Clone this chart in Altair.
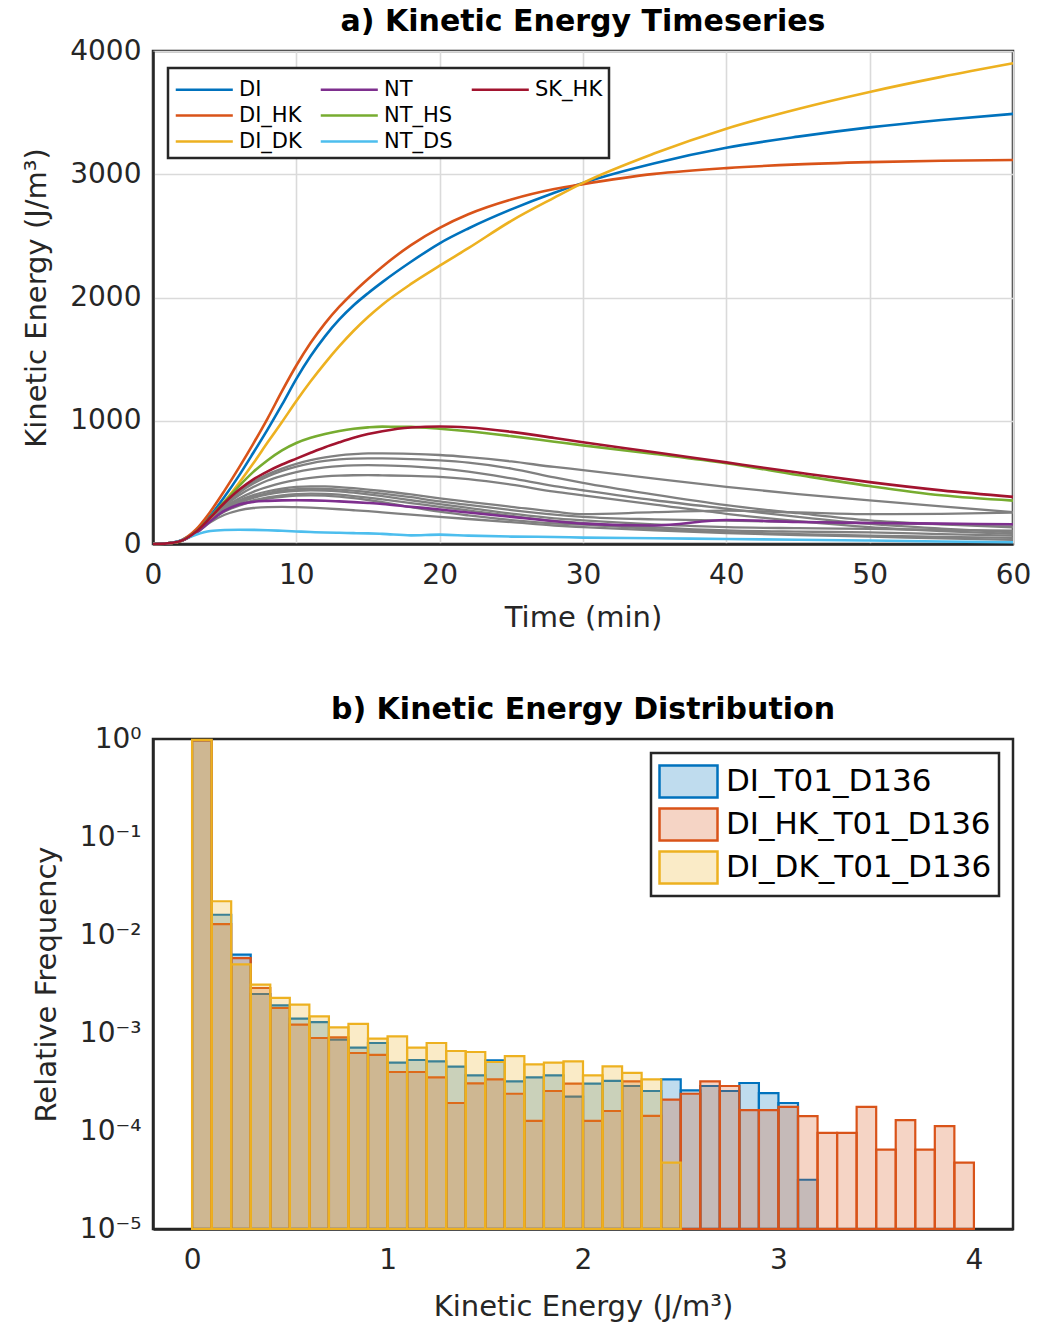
import altair as alt
import pandas as pd

# ---------------- a) Kinetic energy timeseries ----------------
T = [0, 1, 2, 3, 4, 5, 6, 7, 8, 9, 10, 11, 12, 13, 14, 15, 16,
     18, 20, 22, 25, 28, 30, 35, 40, 45, 50, 55, 60]

DI = [0, 5, 30, 105, 230, 385, 555, 740, 930, 1130, 1340, 1525, 1685, 1822, 1937, 2035, 2125,
      2290, 2440, 2560, 2715, 2850, 2930, 3090, 3215, 3305, 3380, 3440, 3490]
DI_HK = [0, 5, 32, 118, 262, 435, 620, 815, 1020, 1240, 1448, 1632, 1790, 1925, 2043, 2150, 2250,
         2425, 2565, 2675, 2795, 2880, 2920, 3003, 3050, 3080, 3098, 3110, 3116]
DI_DK = [0, 5, 27, 98, 210, 345, 495, 655, 825, 990, 1160, 1320, 1468, 1605, 1730, 1842, 1942,
         2110, 2258, 2400, 2622, 2810, 2930, 3170, 3370, 3530, 3668, 3790, 3900]
NT = [0, 5, 26, 90, 185, 270, 320, 342, 350, 354, 355, 354, 351, 346, 340, 333, 325,
      302, 280, 255, 220, 185, 165, 150, 195, 178, 170, 165, 160]
NT_HS = [0, 5, 28, 100, 220, 345, 470, 585, 680, 760, 820, 862, 893, 917, 935, 946, 952,
         950, 935, 915, 875, 830, 800, 730, 655, 560, 470, 395, 352]
NT_DS = [0, 5, 30, 75, 105, 114, 116, 115, 112, 107, 102, 97, 93, 91, 88, 86, 82,
         70, 76, 68, 60, 57, 52, 47, 40, 35, 28, 20, 14]
SK_HK = [0, 5, 28, 100, 215, 335, 440, 525, 590, 645, 693, 740, 785, 825, 862, 892, 915,
         945, 953, 945, 910, 860, 825, 745, 662, 580, 502, 435, 382]

GRAY = [
    [0, 5, 27, 98, 212, 325, 425, 505, 565, 612, 650, 680, 703, 719, 729, 735, 736,
     732, 722, 705, 670, 625, 600, 530, 463, 405, 354, 305, 259],
    [0, 5, 27, 98, 210, 320, 415, 490, 548, 593, 628, 655, 674, 686, 693, 695, 694,
     688, 678, 660, 612, 540, 495, 400, 315, 250, 192, 160, 136],
    [0, 5, 27, 97, 207, 310, 395, 462, 515, 553, 583, 605, 621, 632, 638, 640, 638,
     630, 613, 587, 532, 470, 436, 355, 286, 220, 163, 125, 95],
    [0, 5, 27, 96, 204, 300, 370, 423, 463, 496, 520, 537, 548, 555, 558, 559, 557,
     552, 545, 527, 482, 425, 395, 320, 245, 185, 136, 105, 82],
    [0, 5, 27, 96, 202, 292, 353, 397, 428, 450, 463, 468, 467, 462, 453, 442, 430,
     402, 370, 342, 302, 262, 242, 258, 270, 256, 242, 245, 255],
    [0, 5, 27, 96, 200, 287, 343, 384, 413, 434, 446, 450, 448, 442, 433, 421, 408,
     380, 345, 318, 275, 238, 220, 200, 190, 180, 170, 162, 158],
    [0, 5, 27, 95, 198, 282, 335, 374, 402, 421, 432, 436, 434, 427, 416, 403, 388,
     355, 323, 293, 247, 208, 192, 160, 137, 128, 122, 115, 109],
    [0, 5, 27, 95, 195, 272, 320, 354, 378, 395, 405, 409, 407, 400, 389, 376, 362,
     332, 302, 272, 228, 188, 170, 135, 110, 100, 94, 80, 68],
    [0, 5, 26, 94, 192, 264, 312, 346, 368, 383, 392, 395, 392, 384, 372, 357, 340,
     300, 262, 232, 194, 167, 158, 121, 96, 80, 68, 58, 49],
    [0, 5, 26, 88, 176, 237, 273, 292, 300, 301, 299, 295, 289, 282, 274, 266, 257,
     238, 220, 203, 177, 150, 137, 110, 88, 72, 60, 45, 33],
]

SERIES_NAMES = ["DI", "DI_HK", "DI_DK", "NT", "NT_HS", "NT_DS", "SK_HK"]
SERIES_VALUES = [DI, DI_HK, DI_DK, NT, NT_HS, NT_DS, SK_HK]
SERIES_COLORS = ["#0072BD", "#D95319", "#EDB120", "#7E2F8E", "#77AC30", "#4DBEEE", "#A2142F"]
# a trailing blank entry keeps the legend laid out as 3 rows x 3 columns
LEG_DOMAIN = SERIES_NAMES + [" "]
LEG_RANGE = SERIES_COLORS + ["transparent"]

gray_rows = []
for k, g in enumerate(GRAY):
    for t, v in zip(T, g):
        gray_rows.append({"t": t, "ke": v, "run": f"G{k}"})
gray_df = pd.DataFrame(gray_rows)

col_rows = []
for name, vals in zip(SERIES_NAMES, SERIES_VALUES):
    for t, v in zip(T, vals):
        col_rows.append({"t": t, "ke": v, "series": name})
col_df = pd.DataFrame(col_rows)

FS_TICK = 28
FS_TITLE = 29
DARK = "#262626"

x_top = alt.X("t:Q", scale=alt.Scale(domain=[0, 60], nice=False),
              axis=alt.Axis(values=[0, 10, 20, 30, 40, 50, 60], title="Time (min)", grid=True,
                            labelFlush=False, labelPadding=17, titlePadding=14))
y_top = alt.Y("ke:Q", scale=alt.Scale(domain=[0, 4000], nice=False),
              axis=alt.Axis(values=[0, 1000, 2000, 3000, 4000], format="d", title="Kinetic Energy (J/m³)",
                            grid=True, labelPadding=12, titlePadding=18))

gray_lines = alt.Chart(gray_df).mark_line(color="#808080", strokeWidth=2.3, interpolate="monotone").encode(
    x=x_top, y=y_top, detail="run:N")

col_lines = alt.Chart(col_df).mark_line(strokeWidth=2.6, interpolate="monotone").encode(
    x=x_top, y=y_top,
    color=alt.Color("series:N", sort=LEG_DOMAIN,
                    scale=alt.Scale(domain=LEG_DOMAIN, range=LEG_RANGE),
                    legend=alt.Legend(title=None, orient="none", legendX=15, legendY=17, columns=3,
                                      symbolType="M-1,0H3.15", symbolSize=756, symbolStrokeWidth=2.6,
                                      labelFontSize=21, labelOffset=34, columnPadding=13, rowPadding=0,
                                      padding=6, strokeColor=DARK, fillColor="white", labelColor="black")),
)

top = alt.layer(gray_lines, col_lines).properties(
    width=860, height=493,
    title=alt.TitleParams("a) Kinetic Energy Timeseries", fontSize=30, fontWeight="bold", offset=0, color="black"),
)

# ---------------- b) Kinetic energy distribution ----------------
BIN_WIDTH = 0.1
HIST_DI = [0.97, 0.0161, 0.00630, 0.00250, 0.00191, 0.00140, 0.00129, 0.000855, 0.000708, 0.000791,
           0.000498, 0.000530, 0.000514, 0.000453, 0.000370, 0.000526, 0.000321, 0.000353, 0.000370, 0.000224,
           0.000304, 0.000324, 0.000288, 0.000256, 0.000337, 0.000260, 0.000288, 0.000256, 0.000309, 0.000244,
           0.000193, 0.0000318]
HIST_DI_HK = [0.97, 0.0129, 0.00582, 0.00288, 0.00180, 0.00122, 0.000889, 0.000904, 0.000625, 0.000597,
              0.000400, 0.000400, 0.000353, 0.000193, 0.000306, 0.000337, 0.000240, 0.000127, 0.000256, 0.000304,
              0.000127, 0.000160, 0.000321, 0.000143, 0.000209, 0.000240, 0.000321, 0.000288, 0.000163, 0.000163,
              0.000176, 0.000142, 0.0000955, 0.0000955, 0.000176, 0.0000646, 0.000129, 0.0000646, 0.000112, 0.0000475]
HIST_DI_DK = [0.98, 0.0221, 0.00502, 0.00311, 0.00228, 0.00195, 0.00148, 0.00114, 0.00124, 0.000875,
              0.000925, 0.000708, 0.000791, 0.000655, 0.000640, 0.000506, 0.000582, 0.000479, 0.000498, 0.000514,
              0.000370, 0.000457, 0.000391, 0.000337, 0.0000475]
HIST_NAMES = ["DI_T01_D136", "DI_HK_T01_D136", "DI_DK_T01_D136"]
HIST_COLORS = ["#0072BD", "#D95319", "#EDB120"]
HIST_FILLS = ["rgba(0,114,189,0.25)", "rgba(217,83,25,0.25)", "rgba(237,177,32,0.25)"]

h_rows = []
for name, vals in zip(HIST_NAMES, [HIST_DI, HIST_DI_HK, HIST_DI_DK]):
    for i, v in enumerate(vals):
        h_rows.append({"x0": round(i * BIN_WIDTH, 1), "x1": round((i + 1) * BIN_WIDTH, 1), "freq": v, "run": name})
h_df = pd.DataFrame(h_rows)

sup = "['⁰','⁻¹','⁻²','⁻³','⁻⁴','⁻⁵'][-round(log(datum.value)/LN10)]"

hist_legend = alt.Legend(title=None, orient="top-right", offset=14,
                         symbolType="M-1,-0.8H1.9V0.8H-1Z", symbolSize=1600, symbolStrokeWidth=2.5,
                         labelFontSize=31, labelOffset=25, labelLimit=500, rowPadding=0, padding=7,
                         strokeColor=DARK, fillColor="white", labelColor="black")

hist = alt.Chart(h_df).mark_rect(strokeWidth=2.2).encode(
    x=alt.X("x0:Q", scale=alt.Scale(domain=[-0.2, 4.2], nice=False),
            axis=alt.Axis(values=[0, 1, 2, 3, 4], title="Kinetic Energy (J/m³)", grid=False,
                          labelPadding=17, titlePadding=18)),
    x2="x1:Q",
    y=alt.Y("freq:Q", scale=alt.Scale(type="log", domain=[1e-5, 1], nice=False),
            axis=alt.Axis(values=[1, 0.1, 0.01, 0.001, 0.0001, 0.00001], title="Relative Frequency", grid=False,
                          labelExpr="'10' + " + sup, labelPadding=12, titlePadding=18)),
    y2=alt.datum(1e-5),
    fill=alt.Fill("run:N", sort=HIST_NAMES, scale=alt.Scale(domain=HIST_NAMES, range=HIST_FILLS), legend=hist_legend),
    stroke=alt.Stroke("run:N", sort=HIST_NAMES, scale=alt.Scale(domain=HIST_NAMES, range=HIST_COLORS), legend=hist_legend),
).properties(
    width=860, height=490,
    title=alt.TitleParams("b) Kinetic Energy Distribution", fontSize=30, fontWeight="bold", offset=0, color="black"),
)

chart = alt.vconcat(top, hist, spacing=59).resolve_scale(color="independent", fill="independent",
                                                          stroke="independent").properties(
    padding={"left": 21, "top": 5, "right": 2, "bottom": 0}
).configure(font="DejaVu Sans").configure_view(
    stroke=DARK, strokeWidth=2.5
).configure_axis(
    labelFontSize=FS_TICK, titleFontSize=FS_TITLE, labelColor=DARK, titleColor=DARK,
    titleFontWeight="normal", domainColor=DARK, domainWidth=2.5, ticks=False,
    gridColor="#dadada", gridWidth=1.6, labelFont="DejaVu Sans", titleFont="DejaVu Sans",
).configure_legend(
    strokeWidth=2.5, labelFont="DejaVu Sans",
).configure_title(font="DejaVu Sans", anchor="middle")

chart.save("out.html", embed_options={"renderer": "svg", "actions": False})
